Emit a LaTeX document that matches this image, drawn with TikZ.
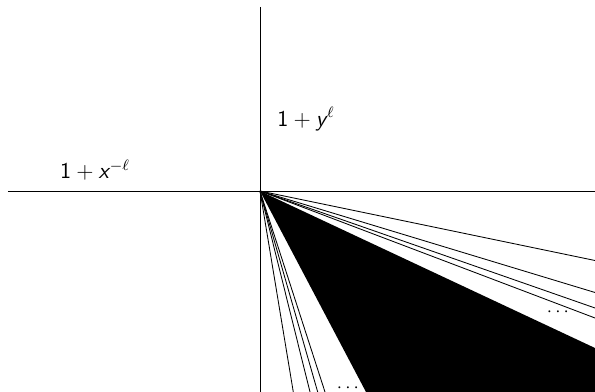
\documentclass[tikz,border=0pt]{standalone}
\usepackage{tikz}
\usetikzlibrary{calc}
\newcommand{\sfv}[1]{\textsf{\itshape #1}\kern0.6pt}
\tikzset{
    axisline/.style={draw=black, line width=0.45pt},
    wallray/.style={draw=black, line width=0.45pt},
    densecone/.style={fill=black, draw=none},
    wallfn/.style={font=\large, inner sep=0pt},
    moredots/.style={font=\normalsize, inner sep=0pt},
}

\begin{document}
\begin{tikzpicture}[x=0.53pt, y=0.53pt]
    \useasboundingbox (-260,-201) rectangle (335,191);
    \clip (-260,-201) rectangle (335,191);

    % Axes
    \coordinate (o) at (0,0);
    \coordinate (ytop) at (0,184);
    \coordinate (ybot) at (0,-201);
    \coordinate (xleft) at (-252,0);
    \coordinate (xright) at (335,0);

    % Wall functions
    \node[wallfn] (fy) at (46,72) {$\textsf{1}+\sfv{y}^{\ell}$};
    \node[wallfn] (fx) at (-165,21) {$\textsf{1}+\sfv{x}^{-\ell}$};

    % Dense cone
    \coordinate (c1) at (335,-157);
    \coordinate (c2) at (335,-201);
    \coordinate (c3) at (106,-201);
    \fill[densecone] (o) -- (c1) -- (c2) -- (c3) -- cycle;

    % Rays towards the right edge
    \coordinate (r1) at (335,-69.5);
    \coordinate (r2) at (335,-101.5);
    \coordinate (r3) at (335,-117);
    \coordinate (r4) at (335,-127);
    \draw[wallray] (o) -- (r1);
    \draw[wallray] (o) -- (r2);
    \draw[wallray] (o) -- (r3);
    \draw[wallray] (o) -- (r4);

    % Rays towards the bottom edge
    \coordinate (b1) at (33.3,-201);
    \coordinate (b2) at (50,-201);
    \coordinate (b3) at (57.7,-201);
    \coordinate (b4) at (65,-201);
    \draw[wallray] (o) -- (b1);
    \draw[wallray] (o) -- (b2);
    \draw[wallray] (o) -- (b3);
    \draw[wallray] (o) -- (b4);

    \draw[axisline] (xleft) -- (xright);
    \draw[axisline] (ytop) -- (ybot);

    \node[moredots] (dr) at (298,-121) {$\cdots$};
    \node[moredots] (db) at (88,-197) {$\cdots$};
\end{tikzpicture}
\end{document}
